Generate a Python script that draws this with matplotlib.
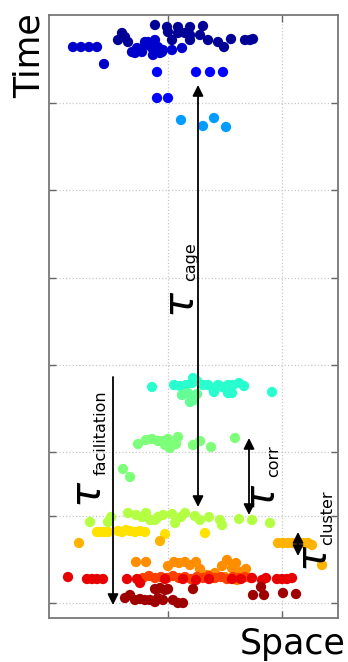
import numpy as np
import matplotlib
matplotlib.use("Agg")
import matplotlib.pyplot as plt

# particle positions, one group per snapshot (space, time)
levels = [0.02, 0.07, 0.13, 0.28, 0.40, 0.47, 0.50, 0.57, 0.67, 0.72, 0.76, 0.84, 0.91, 0.97]

xs = [
    [155, 167, 178, 190, 203, 168, 178, 190, 200, 122, 125, 118, 128, 172, 190, 208, 218, 231, 224, 245, 250, 253, 185],
    [73, 81, 89, 97, 132, 137, 142, 145, 148, 152, 155, 158, 162, 135, 150, 163, 172, 182, 160, 153, 145, 104],
    [157, 196, 210, 223, 157, 168],
    [181, 203, 214, 226],
    [152, 174, 180, 186, 192, 193, 197, 203, 208, 213, 218, 222, 228, 233, 239, 244, 272, 214, 228, 232],
    [182, 188, 193, 197, 190, 194],
    [138, 146, 152, 158, 163, 165, 168, 170, 176, 178, 193, 200, 211, 235, 123, 130],
    [90, 111, 128, 136, 142, 146, 150, 155, 158, 163, 172, 175, 181, 185, 195, 200, 209, 220, 222, 239, 252, 270, 108],
    [97, 100, 104, 108, 118, 122, 126, 130, 135, 140, 145, 165, 205],
    [79, 160, 278, 283, 288, 293, 298, 303, 308, 312, 322],
    [136, 146, 168, 174, 179, 185, 190, 196, 200, 215, 222, 227, 232, 236, 240, 246, 207, 212, 225, 237, 243],
    [143, 149, 155, 161, 167, 173, 179, 185, 191, 197, 203, 209, 215, 221, 227, 233, 239, 245, 251],
    [68, 87, 92, 97, 103, 127, 137, 140, 165, 183, 196, 209, 232, 241, 252, 262, 266, 277, 282, 287, 292],
    [155, 160, 165, 168, 193, 253, 261, 264, 283, 296, 125, 130, 135, 140, 145, 150, 155, 158, 163, 173, 178, 183],
]
ys = [
    [25, 27, 27, 27, 26, 32, 33, 35, 35, 33, 37, 40, 42, 40, 40, 40, 42, 39, 47, 40, 40, 39, 33],
    [47, 47, 47, 47, 52, 48, 52, 45, 42, 48, 40, 47, 52, 53, 45, 50, 50, 48, 53, 55, 42, 64],
    [72, 72, 72, 72, 98, 98],
    [120, 126, 118, 127],
    [387, 385, 386, 385, 383, 378, 381, 385, 385, 388, 385, 387, 385, 385, 383, 386, 392, 392, 393, 393],
    [395, 393, 397, 394, 402, 400],
    [444, 440, 439, 441, 441, 445, 439, 448, 444, 437, 445, 441, 447, 438, 469, 477],
    [522, 517, 513, 515, 517, 513, 520, 520, 517, 515, 514, 523, 517, 513, 516, 520, 517, 520, 525, 519, 520, 523, 522],
    [532, 532, 532, 532, 531, 532, 530, 531, 532, 531, 532, 534, 533],
    [543, 541, 543, 543, 543, 543, 543, 543, 543, 545, 565],
    [562, 562, 566, 562, 563, 562, 565, 562, 569, 573, 566, 560, 568, 563, 572, 569, 575, 578, 577, 580, 575],
    [578, 576, 578, 577, 578, 576, 578, 577, 579, 577, 578, 576, 578, 577, 579, 577, 578, 577, 578],
    [577, 579, 579, 579, 579, 579, 579, 583, 579, 579, 580, 579, 579, 579, 578, 580, 578, 579, 579, 579, 578],
    [589, 588, 590, 589, 589, 595, 587, 595, 593, 594, 598, 595, 600, 599, 600, 600, 602, 598, 600, 600, 603, 603],
]

# time-scale arrows: x, start, end
arrow_x = [198, 113, 249, 298]
arrow_y0 = [85, 377, 438, 532]
arrow_y1 = [507, 605, 515, 556]
both_ends = [True, False, True, True]

ytick_pos = [103, 190, 278, 365, 452, 516, 603]
xtick_pos = [168, 282]

W, H = 348, 662
fig = plt.figure(figsize=(W / 100, H / 100), dpi=100)
ax = fig.add_axes([49 / W, 1 - 618 / H, (338 - 49) / W, (618 - 15) / H])
ax.set_xlim(49, 338)
ax.set_ylim(618, 15)

cmap = plt.get_cmap("jet")
for lv, x, y in zip(levels, xs, ys):
    ax.scatter(x, y, s=55, color=cmap(lv), edgecolors="none", zorder=3)

ax.set_xticks(xtick_pos)
ax.set_yticks(ytick_pos)
ax.set_xticklabels([])
ax.set_yticklabels([])
ax.tick_params(direction="in", length=5, width=1, color="#666666",
               top=True, right=True, bottom=True, left=True)
ax.grid(True, linestyle=":", color="#c8c8c8", linewidth=0.9, zorder=0)
for sp in ax.spines.values():
    sp.set_color("#777777")
    sp.set_linewidth(1.3)

for x, y0, y1, both in zip(arrow_x, arrow_y0, arrow_y1, both_ends):
    style = "<|-|>" if both else "-|>"
    ax.annotate("", xy=(x, y1), xytext=(x, y0),
                arrowprops=dict(arrowstyle=style, color="black", lw=1.3,
                                mutation_scale=16, shrinkA=0, shrinkB=0),
                zorder=5)

# tau labels: big tau plus subscript, rotated
taus = [(182, 304, 191, 262, "cage"),
        (89, 494, 101, 433, "facilitation"),
        (263, 497, 274, 461, "corr"),
        (315, 558, 328, 518, "cluster")]
for tx, ty, sx, sy, sub in taus:
    ax.text(tx, ty, r"$\tau$", fontsize=30, rotation=90, ha="center", va="center", zorder=6)
    ax.text(sx, sy, sub, fontsize=11.5, rotation=90, ha="center", va="center", zorder=6)

fig.text(30 / W, 1 - 56 / H, "Time", fontsize=25, rotation=90, ha="center", va="center")
fig.text(293 / W, 1 - 644 / H, "Space", fontsize=25, ha="center", va="center")

fig.savefig("out.png", dpi=100)
